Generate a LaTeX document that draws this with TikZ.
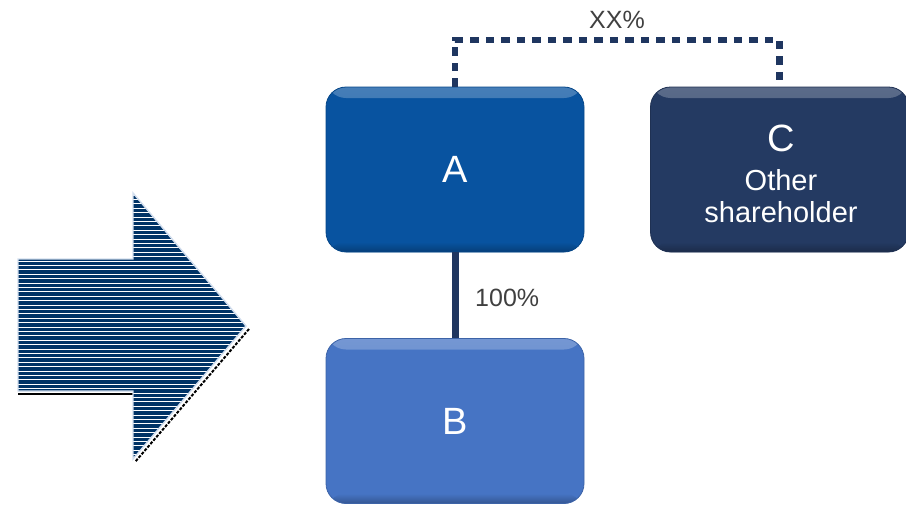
\documentclass[tikz,border=0pt]{standalone}
\usepackage{fontspec}
\setmainfont{Liberation Sans}
\definecolor{afill}{RGB}{8,83,160}
\definecolor{bfill}{RGB}{70,116,196}
\definecolor{cfill}{RGB}{36,58,98}
\definecolor{linkcol}{RGB}{31,54,96}
\definecolor{labgray}{RGB}{64,64,64}
\definecolor{arrnavy}{RGB}{0,51,102}
\definecolor{arredge}{RGB}{210,222,238}
\tikzset{
  box/.style={rounded corners=20pt, minimum width=258pt, minimum height=165pt,
    inner sep=0pt, text=white, fill=#1, draw=#1!85!black, line width=0.8pt,
    path picture={
      \shade[top color=#1!75!white, bottom color=#1]
        (path picture bounding box.north west) rectangle ([yshift=-11pt]path picture bounding box.north east);
      \shade[top color=#1, bottom color=#1!75!black]
        ([yshift=10pt]path picture bounding box.south west) rectangle (path picture bounding box.south east);
    }},
  bigtxt/.style={font=\fontsize{38}{40}\selectfont},
  smalltxt/.style={font=\fontsize{29}{32}\selectfont, text=white, inner sep=0pt},
  pct/.style={font=\fontsize{25}{28}\selectfont, text=labgray, inner sep=0pt},
  solidlink/.style={draw=linkcol, line width=7pt},
  dotlink/.style={draw=linkcol, line width=6.5pt, dash pattern=on 8.5pt off 7pt}
}
\begin{document}
\begin{tikzpicture}[x=1pt,y=-1pt]
\useasboundingbox (0,0) rectangle (906,504);
% striped arrow
\draw[black, line width=2pt] (18,394) -- (133,394);
\draw[black, line width=2pt, dash pattern=on 3pt off 1.5pt] (249,329) -- (135,462);
\begin{scope}
  \clip (18,259) -- (133,259) -- (133,193) -- (246,326) -- (133,459) -- (133,391) -- (18,391) -- cycle;
  \fill[arrnavy] (10,185) rectangle (255,465);
  \foreach \yy in {195,199.4,...,459} \draw[white, line width=0.8pt] (10,\yy) -- (255,\yy);
\end{scope}
\draw[arredge, line width=1.4pt, line join=miter] (18,259) -- (133,259) -- (133,193) -- (246,326) -- (133,459) -- (133,391) -- (18,391) -- cycle;
% boxes
\node[box=afill, bigtxt] (A) at (455,169.5) {\raisebox{-3pt}{A}};
\node[box=bfill, bigtxt] (B) at (455,421) {\raisebox{-2pt}{B}};
\node[box=cfill] (C) at (779.5,169.5) {};
\node[bigtxt, text=white, inner sep=0pt, anchor=base] (Cl) at (781,151) {C};
\node[smalltxt, anchor=base] (Co) at (781,190) {Other};
\node[smalltxt, anchor=base] (Cs) at (781,222) {shareholder};
% connectors
\draw[solidlink] (A.south) -- (B.north);
\node[pct, anchor=base west] (p100) at (475,306) {100\%};
\coordinate (top) at (617,40);
\draw[dotlink] (A.north) |- (top) -| (C.north);
\node[pct, anchor=base] (pxx) at (617,28) {XX\%};
\end{tikzpicture}
\end{document}
